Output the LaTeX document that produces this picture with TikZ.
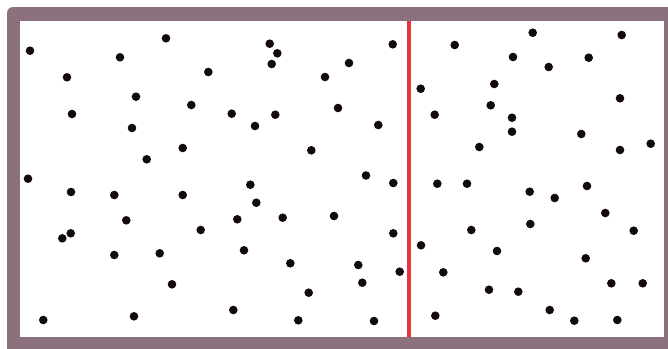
\documentclass[tikz,border=0pt]{standalone}
\definecolor{framecol}{HTML}{8A717D}
\definecolor{redline}{HTML}{E8343E}
\definecolor{dotcol}{HTML}{120A10}
\tikzset{dotmark/.style={fill=dotcol,draw=none}}
\begin{document}
\begin{tikzpicture}[x=1pt,y=-1pt]
\useasboundingbox (0,0) rectangle (668,348);
\begin{scope}
\clip (0,0) rectangle (668,348);
\fill[framecol,rounded corners=6pt] (7,7) rectangle (690,370);
\fill[white] (20,21) rectangle (663.5,337);
\end{scope}
\draw[redline,line width=4.5pt] (409,21) -- (409,337);
\foreach \x/\y in {
30/50.7, 166/38.3, 120/57.3, 67/77.3, 136/96.7, 72/114, 132/128, 146.7/159.3,
269.7/43.7, 277.3/53.3, 271.7/64, 208.3/72, 325/77, 191.3/105, 231.7/113.7, 275.3/114.7, 255/126, 182.7/148, 311.3/150.3,
392.7/44.3, 454.7/45, 349/63, 494.3/84, 420.7/88.7, 490.7/105.3, 338/108, 434.7/114.7, 378.3/125, 479.3/147, 366/175.5,
532.7/32.7, 621.7/35, 513/57, 588.7/57.7, 548.7/67, 620/98.3, 512/117.7, 512/131.7, 581.3/134, 650.7/143.7, 620/150,
28/178.7, 71/192, 114.3/195, 126.3/220.3, 70.7/233.3, 62.3/238.3, 114.3/255, 159.7/253.3, 43.3/320, 134/316.3,
182.7/195, 250.3/184.7, 256.3/202.7, 237.3/219.3, 282.7/217.7, 334/216, 200.7/230, 244/250.3, 290.3/263.3, 172/284.3, 308.7/292.7, 233.3/310, 298.3/320.3,
393.3/183, 437.3/183.7, 467/183.7, 393.3/233.3, 471.3/230, 421/245.3, 497/251, 358.3/265, 399.7/271.7, 443.3/272.3, 362.3/282.7, 489/289.7, 374/321, 435.3/315.7,
529.7/191.7, 587/186, 554.7/198, 605.3/213, 530.3/224, 633.7/230.7, 585.7/258.3, 611.3/283.3, 642.7/283.3, 518.3/291.7, 549.7/310, 574.3/320.7, 617.3/320}
  \fill[dotmark] (\x,\y) circle (4.3);
\end{tikzpicture}
\end{document}
